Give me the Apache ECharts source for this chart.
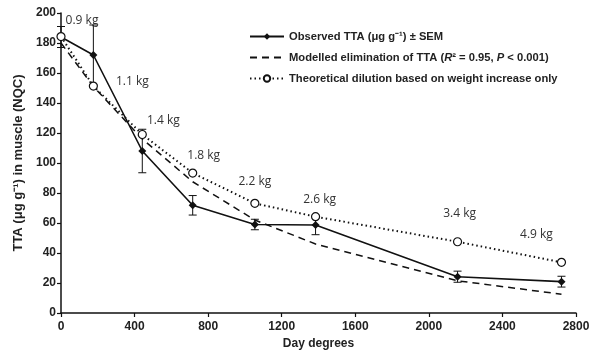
<!DOCTYPE html>
<html>
<head>
<meta charset="utf-8">
<script src="https://cdn.jsdelivr.net/npm/echarts@6/dist/echarts.min.js"></script>
<style>
  html, body { margin: 0; padding: 0; background: #fff; }
  #chart { width: 597px; height: 354px; }
</style>
</head>
<body>
<div id="chart"></div>
<script>
// day degrees at each sampling
const dayDegrees = [0, 176, 442, 716, 1054, 1384, 2156, 2721]
// observed TTA (µg/g) and SEM
const observed = [184, 172, 108, 71.8, 59, 58.7, 24.2, 20.9]
const observedSem = [7, 20, 14.5, 6.5, 3.5, 6.5, 3.7, 3.6]
// modelled elimination
const modelled = [180, 151, 116, 87.5, 62, 46, 21.5, 12.5]
// theoretical dilution
const theoretical = [184.3, 151.3, 119, 93.3, 73.1, 64.2, 47.5, 33.8]
// fish weight labels
const weights = ['0.9 kg', '1.1 kg', '1.4 kg', '1.8 kg', '2.2 kg', '2.6 kg', '3.4 kg', '4.9 kg']
// label offsets (px) relative to theoretical points
const labelOffsets = [[21, -16], [39, -4], [21, -14], [11, -17], [0, -22], [4, -17], [2, -28], [-25, -28]]

const names = [
  'Observed TTA (μg g⁻¹) ± SEM',
  'Modelled elimination of TTA',
  'Theoretical dilution based on weight increase only'
]

const pairs = (ys) => dayDegrees.map((x, i) => [x, ys[i]])
const tickFont = { fontFamily: 'Liberation Sans', fontWeight: 'bold', fontSize: 12, color: '#222' }

const chart = echarts.init(document.getElementById('chart'), null, { renderer: 'canvas' })

const option = {
  backgroundColor: '#fff',
  animation: false,
  grid: { left: 61, right: 21, top: 13, bottom: 41, outerBoundsMode: 'none' },
  legend: {
    data: [
      { name: names[0] },
      { name: names[1], itemStyle: { opacity: 0 } },
      { name: names[2] }
    ],
    orient: 'vertical',
    left: 244,
    top: 26,
    itemWidth: 34,
    itemHeight: 8,
    itemGap: 10,
    formatter: (name) => {
      if (name === names[1]) {
        return '{b|Modelled elimination of TTA (}{i|R}{b|² = 0.95, }{i|P}{b| < 0.001)}'
      }
      return '{b|' + name + '}'
    },
    textStyle: {
      rich: {
        b: { fontFamily: 'Liberation Sans', fontWeight: 'bold', fontSize: 11.2, color: '#222' },
        i: { fontFamily: 'Liberation Sans', fontWeight: 'bold', fontStyle: 'italic', fontSize: 11.2, color: '#222' }
      }
    }
  },
  xAxis: {
    type: 'value',
    min: 0,
    max: 2800,
    interval: 400,
    name: 'Day degrees',
    nameLocation: 'middle',
    nameGap: 25,
    nameTextStyle: { ...tickFont },
    axisLine: { lineStyle: { color: '#111', width: 1.5 } },
    axisTick: { inside: false, length: 4, lineStyle: { color: '#111', width: 1.2 } },
    axisLabel: { ...tickFont, margin: 8, formatter: (v) => String(v) },
    splitLine: { show: false }
  },
  yAxis: {
    type: 'value',
    min: 0,
    max: 200,
    interval: 20,
    name: 'TTA (μg g⁻¹) in muscle (NQC)',
    nameLocation: 'middle',
    nameGap: 36,
    nameTextStyle: { ...tickFont, fontSize: 13 },
    axisLine: { show: true, lineStyle: { color: '#111', width: 1.5 } },
    axisTick: { show: true, inside: false, length: 4, lineStyle: { color: '#111', width: 1.2 } },
    axisLabel: { ...tickFont, margin: 5 },
    splitLine: { show: false }
  },
  series: [
    {
      name: names[1],
      type: 'line',
      data: pairs(modelled),
      symbol: 'none',
      lineStyle: { color: '#111', width: 1.5, type: [7, 5] },
      itemStyle: { color: '#111' },
      z: 2
    },
    {
      name: names[0],
      type: 'line',
      data: pairs(observed),
      symbol: 'diamond',
      symbolSize: 8,
      lineStyle: { color: '#111', width: 1.6 },
      itemStyle: { color: '#111' },
      z: 3
    },
    {
      name: 'sem',
      type: 'custom',
      data: dayDegrees.map((x, i) => [x, observed[i] - observedSem[i], observed[i] + observedSem[i]]),
      renderItem: (params, api) => {
        const x = api.value(0)
        const lo = api.coord([x, api.value(1)])
        const hi = api.coord([x, api.value(2)])
        const w = 4
        const style = { stroke: '#111', lineWidth: 1 }
        return {
          type: 'group',
          children: [
            { type: 'line', shape: { x1: lo[0], y1: lo[1], x2: hi[0], y2: hi[1] }, style },
            { type: 'line', shape: { x1: lo[0] - w, y1: lo[1], x2: lo[0] + w, y2: lo[1] }, style },
            { type: 'line', shape: { x1: hi[0] - w, y1: hi[1], x2: hi[0] + w, y2: hi[1] }, style }
          ]
        }
      },
      z: 3
    },
    {
      name: names[2],
      type: 'line',
      data: pairs(theoretical).map((p, i) => ({
        value: p,
        label: {
          show: true,
          formatter: weights[i],
          position: 'inside',
          offset: labelOffsets[i],
          fontFamily: 'Open Sans',
          fontSize: 12,
          color: '#333'
        }
      })),
      symbol: 'circle',
      symbolSize: 8,
      lineStyle: { color: '#111', width: 2, type: [1.5, 3] },
      itemStyle: { color: '#fff', borderColor: '#111', borderWidth: 1.2 },
      z: 4
    }
  ]
}

chart.setOption(option)
</script>
</body>
</html>
